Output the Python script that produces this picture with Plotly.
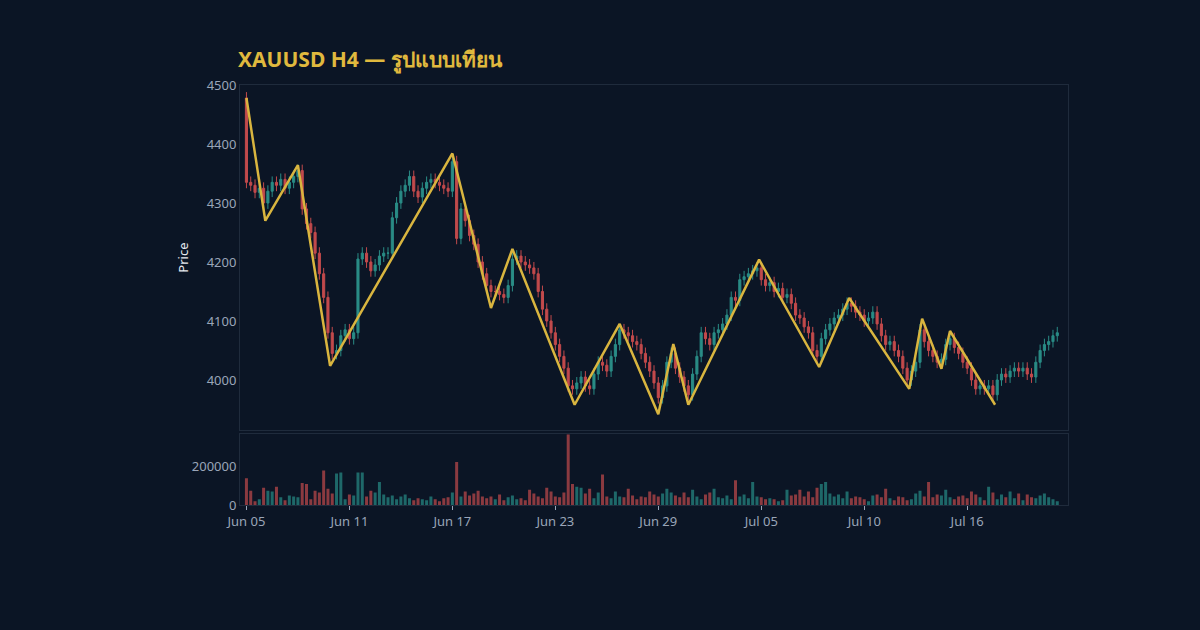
import plotly.graph_objects as go
from plotly.subplots import make_subplots

closes = [4335,4330,4318,4325,4300,4320,4335,4330,4340,4325,4335,4345,4355,4290,4265,4250,4215,4180,4140,4080,
          4045,4050,4075,4085,4070,4080,4205,4215,4200,4185,4195,4210,4215,4215,4275,4300,4320,4330,4345,4320,
          4310,4325,4335,4340,4335,4330,4325,4320,4370,4240,4290,4270,4245,4230,4200,4180,4160,4150,4150,4145,
          4140,4160,4205,4210,4200,4195,4190,4180,4150,4120,4100,4080,4060,4040,4020,3990,3985,3995,4005,3990,
          3985,4010,4030,4025,4015,4040,4060,4085,4080,4075,4065,4060,4045,4030,4015,3995,3970,3990,4030,4045,
          4020,4005,3990,3975,4010,4040,4080,4070,4060,4080,4085,4095,4110,4140,4135,4170,4175,4180,4185,4190,
          4170,4160,4165,4150,4155,4140,4145,4130,4110,4105,4090,4080,4050,4040,4070,4085,4095,4105,4110,4120,
          4130,4125,4115,4110,4100,4105,4115,4095,4075,4060,4065,4050,4040,4020,4000,4015,4030,4085,4065,4050,
          4040,4030,4035,4060,4070,4055,4045,4030,4020,4000,3985,3990,3985,3990,3975,4000,4010,4005,4015,4020,
          4015,4020,4010,4005,4030,4050,4060,4065,4075,4080]
first_open = 4478
volumes = [140,75,20,30,90,75,70,95,40,25,50,45,40,115,110,30,75,65,180,85,
           60,165,170,30,55,50,170,170,45,75,65,120,55,40,50,30,45,55,35,25,
           35,30,25,45,30,20,35,40,65,225,45,70,50,60,75,45,35,45,30,55,
           25,40,50,30,35,25,80,60,45,35,90,70,45,40,65,370,110,95,90,60,
           85,35,65,160,45,35,70,45,40,85,50,30,45,40,70,55,45,60,85,65,
           50,40,65,40,80,45,30,55,65,85,40,35,50,30,130,45,55,35,120,45,
           40,30,35,30,20,25,80,50,55,80,45,70,40,90,110,120,60,45,55,35,
           70,35,45,40,30,20,50,55,40,85,35,25,45,40,25,30,60,75,45,120,
           40,55,50,80,40,30,45,50,35,70,55,40,25,95,65,30,55,40,70,35,
           60,25,55,40,35,50,60,40,30,20]
volumes = [v * 1000 for v in volumes]

zz_idx = [0, 4.4, 12, 19.5, 48, 57, 62, 76.5, 87, 96, 99.5, 103, 119.5, 133.5, 140.5, 154.5, 157.5, 162, 164, 174.5]
zz_price = [4478, 4270, 4364, 4024, 4384, 4122, 4222, 3958, 4095, 3942, 4061, 3958, 4204, 4022, 4139, 3985, 4104, 4019, 4083, 3958]

tick_idx = [0, 24, 48, 72, 96, 120, 144, 168]
tick_txt = ["Jun 05", "Jun 11", "Jun 17", "Jun 23", "Jun 29", "Jul 05", "Jul 10", "Jul 16"]

n = len(closes)
x = list(range(n))
opens = [first_open] + closes[:-1]
highs = [max(o, c) + 10 for o, c in zip(opens, closes)]
lows = [min(o, c) - 10 for o, c in zip(opens, closes)]
GREEN, RED = "#2a8c86", "#c24a4c"
vcol = ["rgba(38,140,134,0.7)" if c >= o else "rgba(194,74,76,0.7)" for o, c in zip(opens, closes)]

fig = make_subplots(rows=2, cols=1, shared_xaxes=True, row_heights=[0.83, 0.17], vertical_spacing=0.01)
fig.add_trace(go.Candlestick(x=x, open=opens, high=highs, low=lows, close=closes,
                             increasing=dict(line=dict(color=GREEN, width=1), fillcolor=GREEN),
                             decreasing=dict(line=dict(color=RED, width=1), fillcolor=RED),
                             showlegend=False, whiskerwidth=0), row=1, col=1)
fig.add_trace(go.Scatter(x=zz_idx, y=zz_price, mode="lines", line=dict(color="#d9b53f", width=2.5),
                         showlegend=False), row=1, col=1)
fig.add_trace(go.Bar(x=x, y=volumes, marker=dict(color=vcol, line=dict(width=0)), showlegend=False), row=2, col=1)

BG = "#0b1525"
ax = dict(showgrid=False, zeroline=False, showline=True, linecolor="#1f2b3c", mirror=True,
          tickfont=dict(color="#9aa5b8", size=13, family="Noto Sans"))
fig.update_layout(
    width=1200, height=630, paper_bgcolor=BG, plot_bgcolor=BG,
    margin=dict(l=240, r=132, t=85, b=125), bargap=0.3,
    title=dict(text="<b>XAUUSD H4 — รูปแบบเทียน</b>", x=238/1200, xanchor="left", y=0.905, yanchor="middle",
               font=dict(color="#e0b93e", size=21, family="Noto Sans")),
    font=dict(family="Noto Sans", color="#c8d0dc"),
)
fig.update_xaxes(**ax, range=[-1.5, 191.5], rangeslider_visible=False)
fig.update_xaxes(tickvals=tick_idx, ticktext=tick_txt, ticks="outside", tickcolor="#9aa5b8", ticklen=4, row=2, col=1)
fig.update_xaxes(showticklabels=False, row=1, col=1)
fig.update_yaxes(**ax)
fig.update_yaxes(range=[3915, 4500], tickvals=[4000, 4100, 4200, 4300, 4400, 4500],
                 title=dict(text="Price", font=dict(size=13, color="#e6e9ef")), row=1, col=1)
fig.update_yaxes(range=[0, 370000], tickvals=[0, 200000], tickformat="d", row=2, col=1)
fig.write_html("out.html", config={"displayModeBar": False},
               post_script="document.body.style.margin='0';document.body.style.background='#0b1525';")
